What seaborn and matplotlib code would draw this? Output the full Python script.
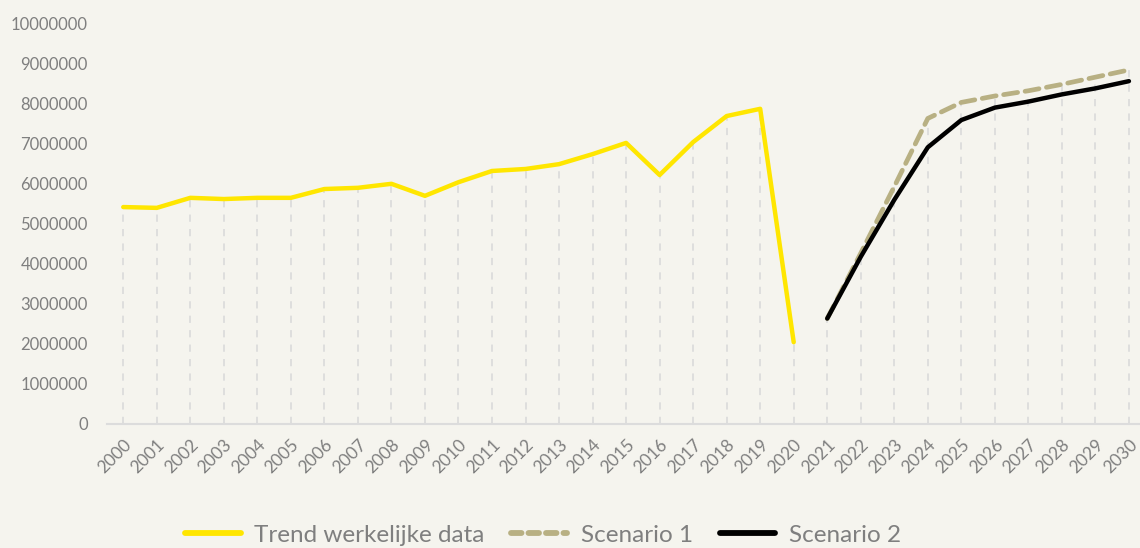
import numpy as np
import pandas as pd
import matplotlib.pyplot as plt
import seaborn as sns

# jaartallen
jaren_trend = list(range(2000, 2021))
jaren_scen = list(range(2021, 2031))

# trend werkelijke data (2000-2020)
trend = [5410000, 5390000, 5640000, 5610000, 5640000, 5640000, 5860000, 5890000,
         5990000, 5690000, 6030000, 6310000, 6360000, 6480000, 6730000, 7010000,
         6210000, 7030000, 7680000, 7860000, 2040000]

# scenario's (2021-2030)
scenario1 = [2630000, 4260000, 5920000, 7620000, 8020000, 8180000, 8310000,
             8470000, 8650000, 8830000]
scenario2 = [2630000, 4170000, 5590000, 6900000, 7580000, 7890000, 8040000,
             8220000, 8370000, 8550000]

bg = "#f5f4ee"
grijs = "#7f7f7f"

sns.set_theme(style="white")
plt.rcParams["font.family"] = ["Lato", "DejaVu Sans"]

df_trend = pd.DataFrame({"jaar": jaren_trend, "waarde": trend})
df_s1 = pd.DataFrame({"jaar": jaren_scen, "waarde": scenario1})
df_s2 = pd.DataFrame({"jaar": jaren_scen, "waarde": scenario2})

fig = plt.figure(figsize=(11.4, 5.48), dpi=100, facecolor=bg)
ax = fig.add_axes([0.094, 0.2263, 0.906, 0.7317])
ax.set_facecolor(bg)

# drop lines tot aan de hoogste waarde per jaar
top_scen = np.maximum(scenario1, scenario2)
ax.vlines(jaren_trend, 0, trend, colors="#dcdcdc", linestyles=(0, (4, 4)), linewidth=1.3, zorder=1)
ax.vlines(jaren_scen, 0, top_scen, colors="#dcdcdc", linestyles=(0, (4, 4)), linewidth=1.3, zorder=1)

sns.lineplot(data=df_trend, x="jaar", y="waarde", ax=ax, color="#ffe600",
             linewidth=3.2, label="Trend werkelijke data", zorder=3)
sns.lineplot(data=df_s1, x="jaar", y="waarde", ax=ax, color="#b8b083",
             linewidth=3.4, dashes=False, label="Scenario 1", zorder=3)
ax.lines[-1].set_linestyle((0, (3, 1.6)))
ax.lines[-1].set_dash_capstyle("round")
sns.lineplot(data=df_s2, x="jaar", y="waarde", ax=ax, color="black",
             linewidth=3.2, label="Scenario 2", zorder=4)
for ln in ax.lines:
    ln.set_solid_capstyle("round")

ax.set_xlim(1999.52, 2030.33)
ax.set_ylim(0, 10000000)
ax.set_yticks(range(0, 10000001, 1000000))
ax.set_yticklabels([str(v) for v in range(0, 10000001, 1000000)])
ax.set_xticks(jaren_trend + jaren_scen)
ax.set_xticklabels([str(j) for j in jaren_trend + jaren_scen], rotation=45,
                   ha="right", rotation_mode="anchor")
ax.tick_params(axis="y", labelsize=12, colors=grijs, length=0, pad=14)
ax.tick_params(axis="x", labelsize=12.5, colors=grijs, length=0, pad=9)
ax.set_xlabel("")
ax.set_ylabel("")

for s in ["top", "right", "left"]:
    ax.spines[s].set_visible(False)
ax.spines["bottom"].set_color("#dcdcdc")
ax.spines["bottom"].set_linewidth(1.5)

leg = ax.legend(loc="center", bbox_to_anchor=(0.422, -0.277), ncol=3,
                frameon=False, fontsize=17.5, handlelength=2.3, columnspacing=1.1,
                handletextpad=0.55)
for t in leg.get_texts():
    t.set_color(grijs)
for h in leg.get_lines():
    h.set_linewidth(4.2)
    h.set_solid_capstyle("round")
    h.set_dash_capstyle("round")
leg.get_lines()[1].set_linestyle((0, (1.8, 1.2)))

fig.savefig("out.png", dpi=100, facecolor=bg)
